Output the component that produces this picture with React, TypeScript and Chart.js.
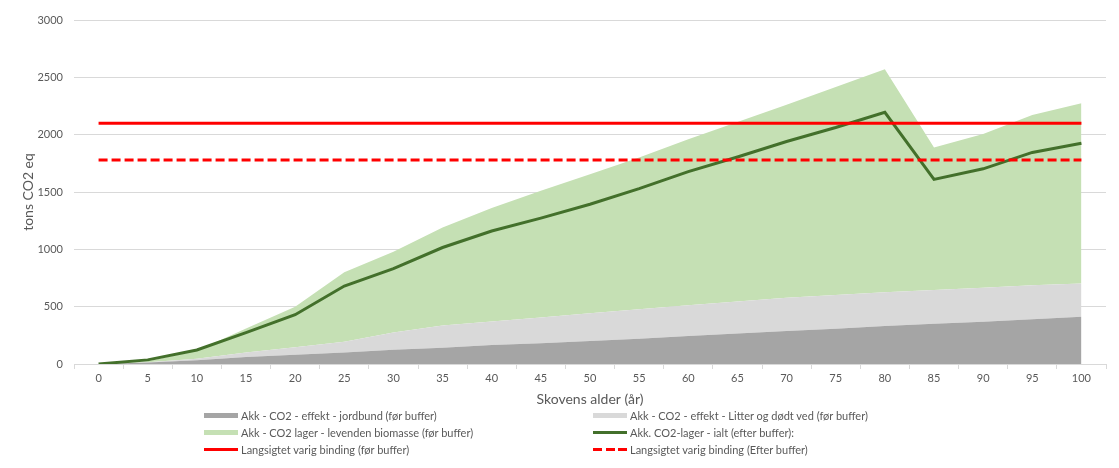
import React, { useEffect, useRef } from "react";
import { Chart, registerables } from "chart.js";

Chart.register(...registerables);

const categories = ["0", "5", "10", "15", "20", "25", "30", "35", "40", "45", "50", "55", "60", "65", "70", "75", "80", "85", "90", "95", "100"];

// stacked areas (før buffer)
const jordbund = [0, 12, 32, 62, 81, 101, 124, 142, 165, 182, 200, 221, 244, 267, 288, 308, 331, 352, 369, 390, 413];
const litterDoedtVed = [0, 3, 13, 38, 66, 93, 151, 193, 205, 223, 242, 256, 268, 277, 290, 294, 294, 293, 297, 296, 290];
const levendeBiomasse = [0, 10, 70, 210, 353, 606, 705, 855, 990, 1105, 1213, 1323, 1448, 1566, 1682, 1813, 1945, 1242, 1340, 1486, 1570];

// line series
const lagerIalt = [0, 36, 122, 273, 430, 680, 832, 1016, 1160, 1272, 1393, 1530, 1678, 1805, 1940, 2062, 2195, 1610, 1702, 1845, 1926];
const varigFoerBuffer = [2100, 2100, 2100, 2100, 2100, 2100, 2100, 2100, 2100, 2100, 2100, 2100, 2100, 2100, 2100, 2100, 2100, 2100, 2100, 2100, 2100];
const varigEfterBuffer = [1780, 1780, 1780, 1780, 1780, 1780, 1780, 1780, 1780, 1780, 1780, 1780, 1780, 1780, 1780, 1780, 1780, 1780, 1780, 1780, 1780];

const seriesNames = [
  "Akk - CO2 - effekt - jordbund (før buffer)",
  "Akk - CO2 - effekt - Litter og dødt ved (før buffer)",
  "Akk - CO2 lager - levenden biomasse (før buffer)",
  "Akk. CO2-lager - ialt (efter buffer):",
  "Langsigtet varig binding (før buffer)",
  "Langsigtet varig binding (Efter buffer)",
];

const xTitle = "Skovens alder (år)";
const yTitle = "tons CO2 eq";

const C_DARK = "#a5a5a5";
const C_LIGHT = "#d9d9d9";
const C_GREEN = "#c5e0b4";
const C_LINE = "#43702b";
const C_RED = "#ff0000";
const FONT = "Lato, 'Liberation Sans', sans-serif";
const TXT = "#595959";

function LegendItem({ kind, color, label }: { kind: string; color: string; label: string }) {
  let sample: React.ReactNode;
  if (kind === "box") {
    sample = <div style={{ width: 34, height: 5, background: color }} />;
  } else if (kind === "line") {
    sample = <div style={{ width: 34, height: 3, background: color }} />;
  } else {
    sample = (
      <div style={{ width: 34, height: 3, display: "flex", justifyContent: "space-between" }}>
        <div style={{ width: 9, height: 3, background: color }} />
        <div style={{ width: 9, height: 3, background: color }} />
        <div style={{ width: 9, height: 3, background: color }} />
      </div>
    );
  }
  return (
    <div style={{ display: "flex", alignItems: "center", height: 17 }}>
      <div style={{ width: 36, display: "flex", alignItems: "center" }}>{sample}</div>
      <span style={{ marginLeft: 1, whiteSpace: "nowrap" }}>{label}</span>
    </div>
  );
}

export default function App() {
  const ref = useRef<HTMLCanvasElement | null>(null);

  useEffect(() => {
    if (!ref.current) return;
    const chart = new Chart(ref.current, {
      type: "line",
      data: {
        labels: categories,
        datasets: [
          {
            label: seriesNames[0],
            data: jordbund,
            stack: "areas",
            fill: "origin",
            backgroundColor: C_DARK,
            borderWidth: 0,
            pointRadius: 0,
            order: 2,
          },
          {
            label: seriesNames[1],
            data: litterDoedtVed,
            stack: "areas",
            fill: "-1",
            backgroundColor: C_LIGHT,
            borderWidth: 0,
            pointRadius: 0,
            order: 2,
          },
          {
            label: seriesNames[2],
            data: levendeBiomasse,
            stack: "areas",
            fill: "-1",
            backgroundColor: C_GREEN,
            borderWidth: 0,
            pointRadius: 0,
            order: 2,
          },
          {
            label: seriesNames[3],
            data: lagerIalt,
            stack: "total",
            fill: false,
            borderColor: C_LINE,
            borderWidth: 3,
            pointRadius: 0,
            order: 1,
          },
          {
            label: seriesNames[4],
            data: varigFoerBuffer,
            stack: "red1",
            fill: false,
            borderColor: C_RED,
            borderWidth: 3,
            pointRadius: 0,
            order: 0,
          },
          {
            label: seriesNames[5],
            data: varigEfterBuffer,
            stack: "red2",
            fill: false,
            borderColor: C_RED,
            borderWidth: 3,
            borderDash: [9, 4],
            pointRadius: 0,
            order: 0,
          },
        ] as any,
      },
      options: {
        animation: false,
        responsive: true,
        maintainAspectRatio: false,
        layout: { padding: { left: 0, right: 13, top: 20, bottom: 0 } },
        elements: { line: { tension: 0 } },
        plugins: {
          legend: { display: false },
          tooltip: { enabled: false },
        },
        scales: {
          x: {
            offset: true,
            grid: {
              display: true,
              drawOnChartArea: false,
              drawTicks: true,
              tickLength: 5,
              offset: true,
              color: "#d9d9d9",
            },
            border: { display: true, color: "#d9d9d9" },
            ticks: {
              color: TXT,
              font: { family: FONT, size: 11 },
              padding: 3,
              maxRotation: 0,
              autoSkip: false,
            },
            title: {
              display: true,
              text: xTitle,
              color: TXT,
              font: { family: FONT, size: 14 },
              padding: { top: 2, bottom: 2 },
            },
            afterFit: (s: any) => {
              s.height = 46;
            },
          },
          y: {
            stacked: true,
            min: 0,
            max: 3000,
            ticks: {
              stepSize: 500,
              color: TXT,
              font: { family: FONT, size: 11 },
              padding: 11,
              callback: (v: any) => String(v),
            },
            grid: { color: "#d9d9d9", drawTicks: false },
            border: { display: false },
            title: {
              display: true,
              text: yTitle,
              color: TXT,
              font: { family: FONT, size: 14 },
              padding: { top: 20, bottom: 20 },
            },
            afterFit: (s: any) => {
              s.width = 74;
            },
          },
        },
      } as any,
    });
    return () => chart.destroy();
  }, []);

  return (
    <div style={{ position: "absolute", left: 0, top: 0, width: 1119, height: 468, background: "#fff", fontFamily: FONT, color: TXT, fontSize: 11 }}>
      <div style={{ position: "absolute", left: 0, top: 0, width: 1119, height: 410 }}>
        <canvas ref={ref} />
      </div>
      <div style={{ position: "absolute", left: 204, top: 407 }}>
        <LegendItem kind="box" color={C_DARK} label={seriesNames[0]} />
        <LegendItem kind="box" color={C_GREEN} label={seriesNames[2]} />
        <LegendItem kind="line" color={C_RED} label={seriesNames[4]} />
      </div>
      <div style={{ position: "absolute", left: 593, top: 407 }}>
        <LegendItem kind="box" color={C_LIGHT} label={seriesNames[1]} />
        <LegendItem kind="line" color={C_LINE} label={seriesNames[3]} />
        <LegendItem kind="dash" color={C_RED} label={seriesNames[5]} />
      </div>
    </div>
  );
}
